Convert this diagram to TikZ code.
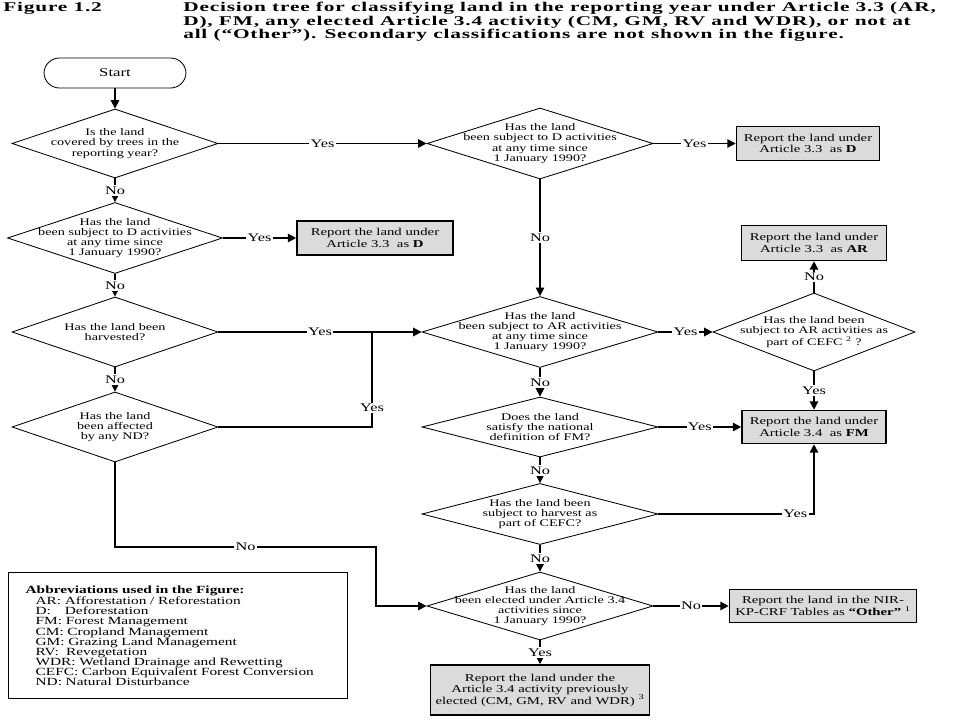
\documentclass[tikz,border=0pt]{standalone}
\usepackage{fontspec}
\setmainfont{Liberation Serif}[FakeStretch=1.4]
\newfontfamily\captionfont{Liberation Serif}[FakeStretch=1.6, LetterSpace=6]
\usepackage{calc}
\usepackage{tikz}
\usetikzlibrary{shapes.geometric,arrows.meta}

\tikzset{
  decision/.style 2 args={diamond, draw, line width=0.6pt, inner sep=0pt,
    minimum width=#1*0.025cm, minimum height=#2*0.025cm},
  qtext/.style={align=center, inner sep=0pt, font=\fontsize{7.2}{7.3}\selectfont},
  report/.style 2 args={draw, fill=gray!28, line width=1.1pt, align=center, inner sep=0pt,
    minimum width=#1*0.025cm, minimum height=#2*0.025cm, font=\fontsize{7.5}{8.2}\selectfont},
  flow/.style={-{Triangle[length=6pt,width=6pt]}, line width=1.1pt},
  answer/.style={fill=white, inner sep=1pt, font=\fontsize{8.3}{8.5}\selectfont},
}

\begin{document}
\begin{tikzpicture}[x=0.025cm, y=-0.025cm]
\path[use as bounding box, fill=white] (0,0) rectangle (960,720);
% caption
\node[anchor=north west, inner sep=0pt, font=\captionfont\fontsize{9.5}{9.7}\selectfont\bfseries] (fig) at (3,2) {Figure 1.2};
\node[anchor=north west, inner sep=0pt, align=left, font=\captionfont\fontsize{9.5}{9.7}\selectfont\bfseries] (caption) at (183,2)
  {Decision tree for classifying land in the reporting year under Article 3.3 (AR,\\
   D), FM, any elected Article 3.4 activity (CM, GM, RV and WDR), or not at\\
   all (“Other”). Secondary classifications are not shown in the figure.};
% left column
\node[draw, line width=0.6pt, rounded corners=11pt, minimum width=3.55cm, minimum height=0.75cm,
  font=\fontsize{8.5}{8.7}\selectfont] (start) at (115,73) {Start};
\node[decision={206}{69}, label={[qtext]center:{Is the land\\covered by trees in the\\reporting year?}}] (trees) at (115,143.5) {};
\node[decision={215}{71}, label={[qtext]center:{Has the land\\been subject to D activities\\at any time since\\1 January 1990?}}] (dleft) at (115,238) {};
\node[decision={206}{70}, label={[qtext]center:{Has the land been\\harvested?}}] (harv) at (115,332) {};
\node[decision={206}{70}, label={[qtext]center:{Has the land\\been affected\\by any ND?}}] (nd) at (115,427) {};
% middle column
\node[decision={226}{71}, label={[qtext]center:{Has the land\\been subject to D activities\\at any time since\\1 January 1990?}}] (dmid) at (540,143.5) {};
\node[decision={236}{71}, label={[qtext]center:{Has the land\\been subject to AR activities\\at any time since\\1 January 1990?}}] (ar) at (540,332) {};
\node[decision={236}{60}, label={[qtext]center:{Does the land\\satisfy the national\\definition of FM?}}] (fmdef) at (540,427) {};
\node[decision={236}{61}, label={[qtext]center:{Has the land been\\subject to harvest as\\part of CEFC?}}] (harvcefc) at (540,514) {};
\node[decision={226}{68}, label={[qtext]center:{Has the land\\been elected under Article 3.4\\activities since\\1 January 1990?}}] (elect) at (540,606) {};
% right column
\node[decision={202}{78}, label={[qtext]center:{Has the land been\\subject to AR activities as\\part of CEFC \textsuperscript{2} ?}}] (arcefc) at (814,332) {};
% reports
\node[report={143}{34}] (repD) at (808,143.5) {Report the land under\\Article 3.3~ as \textbf{D}};
\node[report={156}{34}] (repDleft) at (375,238) {Report the land under\\Article 3.3~ as \textbf{D}};
\node[report={145}{35}] (repAR) at (814,243) {Report the land under\\Article 3.3~ as \textbf{AR}};
\node[report={144}{33}] (repFM) at (814,427) {Report the land under\\Article 3.4~ as \textbf{FM}};
\node[report={187}{33}] (repOther) at (823,606) {Report the land in the NIR-\\KP-CRF Tables as \textbf{“Other”} \textsuperscript{1}};
\node[report={219}{50}] (repElect) at (540,690) {Report the land under the\\Article 3.4 activity previously\\elected (CM, GM, RV and WDR) \textsuperscript{3}};
% abbreviations
\node[draw, line width=0.9pt, anchor=north west, align=left, text width=7.625cm, inner xsep=0.425cm,
  minimum height=3.15cm, font=\fontsize{7.8}{7.2}\selectfont] (abbr) at (8,572)
  {\textbf{Abbreviations used in the Figure:}\\
   \hspace*{0.25cm}AR: Afforestation / Reforestation\\
   \hspace*{0.25cm}\makebox[\widthof{AR: }][l]{D:}Deforestation\\
   \hspace*{0.25cm}FM: Forest Management\\
   \hspace*{0.25cm}CM: Cropland Management\\
   \hspace*{0.25cm}GM: Grazing Land Management\\
   \hspace*{0.25cm}RV:~ Revegetation\\
   \hspace*{0.25cm}WDR: Wetland Drainage and Rewetting\\
   \hspace*{0.25cm}CEFC: Carbon Equivalent Forest Conversion\\
   \hspace*{0.25cm}ND: Natural Disturbance};
% connectors
\coordinate (join) at (372,332);
\coordinate (ndturn) at (376,547);
\draw[flow] (start) -- (trees);
\draw[flow] (trees) -- node[answer]{No} (dleft);
\draw[flow] (trees) -- node[answer]{Yes} (dmid);
\draw[flow] (dleft) -- node[answer]{Yes} (repDleft);
\draw[flow] (dleft) -- node[answer]{No} (harv);
\draw[flow] (harv) -- node[answer]{Yes} (ar);
\draw[flow] (harv) -- node[answer]{No} (nd);
\draw[line width=1.1pt] (nd.east) -| node[answer, pos=0.6]{Yes} (join);
\draw[flow] (nd.south) |- node[answer, pos=0.75]{No} (ndturn) |- (elect.west);
\draw[flow] (dmid) -- node[answer]{Yes} (repD);
\draw[flow] (dmid) -- node[answer]{No} (ar);
\draw[flow] (ar) -- node[answer]{Yes} (arcefc);
\draw[flow] (arcefc) -- node[answer]{No} (repAR);
\draw[flow] (arcefc) -- node[answer]{Yes} (repFM);
\draw[flow] (ar) -- node[answer]{No} (fmdef);
\draw[flow] (fmdef) -- node[answer]{Yes} (repFM);
\draw[flow] (fmdef) -- node[answer]{No} (harvcefc);
\draw[flow] (harvcefc.east) -| node[answer, pos=0.44]{Yes} (repFM.south);
\draw[flow] (harvcefc) -- node[answer]{No} (elect);
\draw[flow] (elect) -- node[answer]{No} (repOther);
\draw[flow] (elect) -- node[answer]{Yes} (repElect);
\end{tikzpicture}
\end{document}
